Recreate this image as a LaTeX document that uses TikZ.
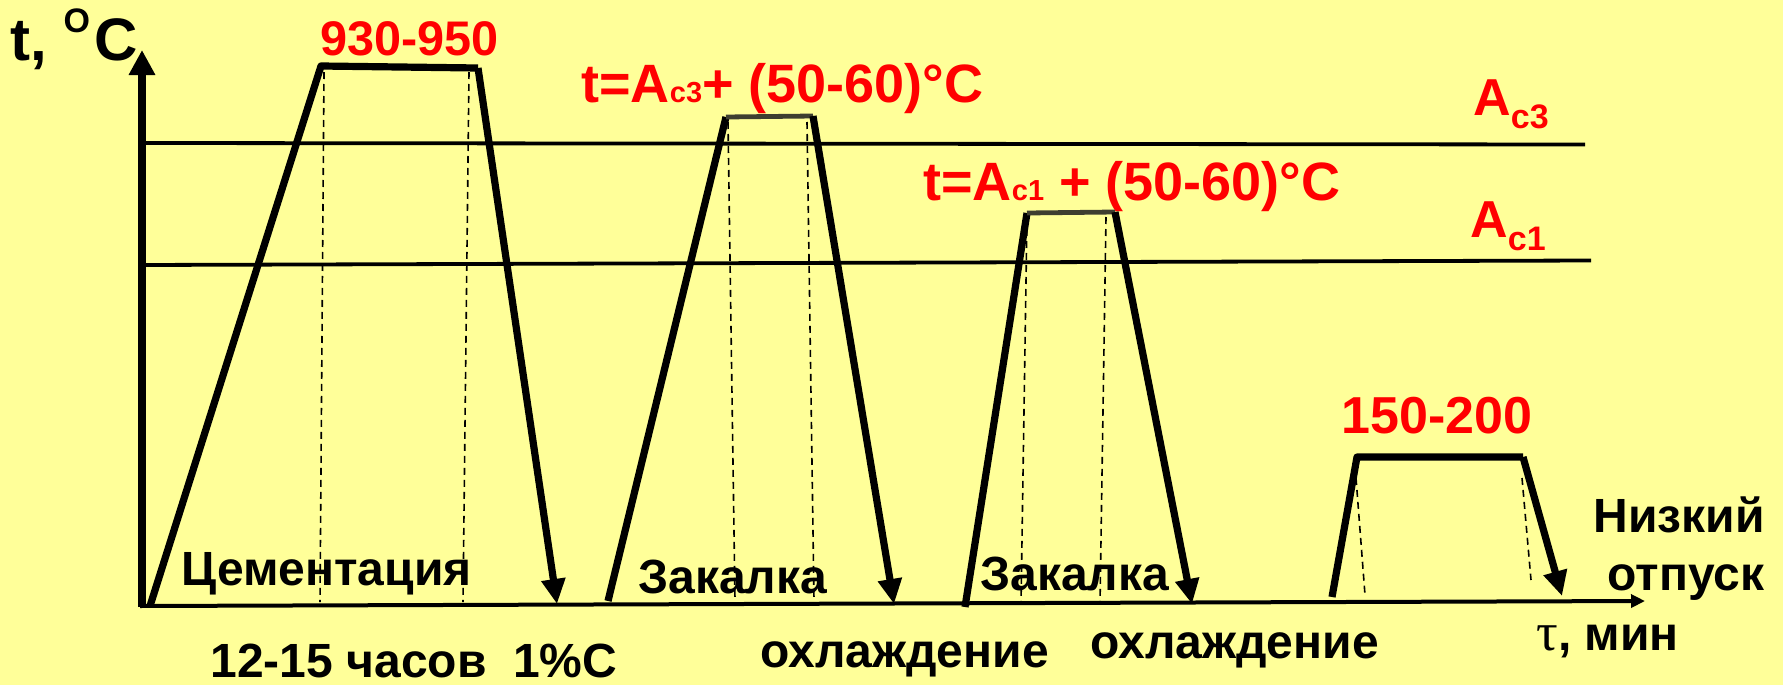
\documentclass[tikz,border=0pt]{standalone}
\usepackage{fontspec}
\setmainfont{Liberation Sans}
\newfontfamily\taufont{Liberation Serif}
\usetikzlibrary{positioning,arrows.meta}
\definecolor{chartbg}{RGB}{255,255,153}
\definecolor{hotred}{RGB}{255,0,0}
\definecolor{holdgray}{RGB}{62,62,48}
\newcommand{\subtxt}[1]{{\fontsize{14.5}{14.5}\selectfont #1}}
\newcommand{\lowsub}[1]{\raisebox{-6.5pt}{\fontsize{17}{17}\selectfont #1}}

\begin{document}
\begin{tikzpicture}[x=0.5pt, y=-0.5pt,
  lbl/.style={font=\fontsize{24}{28}\selectfont\bfseries, inner sep=0pt, anchor=base west},
  hot/.style={lbl, text=hotred, font=\fontsize{26}{30}\selectfont\bfseries},
  prof/.style={line width=3.6pt, line join=round},
  hold/.style={line width=2.4pt, draw=holdgray},
  cool/.style={prof, -{Triangle[length=12.5pt,width=11.5pt]}},
  gu/.style={line width=0.8pt, dash pattern=on 3.5pt off 2.5pt},
  crit/.style={line width=1.9pt}
]
\useasboundingbox (0,0) rectangle (1783,685);
\fill[chartbg] (0,0) rectangle (1783,685);

% axes and critical points
\coordinate (O) at (140,606);
\coordinate (xE) at (1645,601);
\coordinate (yB) at (142,607);
\coordinate (yE) at (142,50);
\coordinate (a3L) at (142,143);
\coordinate (a3R) at (1585,144.5);
\coordinate (a1L) at (142,265);
\coordinate (a1R) at (1591,260.5);

% profile corners: ramp start, ramp top, hold end, cooling tip
\coordinate (up1) at (150,606);  \coordinate (top1) at (321,66);
\coordinate (end1) at (478,68);  \coordinate (tip1) at (557,604);
\coordinate (up2) at (608,601);  \coordinate (top2) at (726,117);
\coordinate (end2) at (813,116); \coordinate (tip2) at (894,604);
\coordinate (up3) at (965,607);  \coordinate (top3) at (1027,213);
\coordinate (end3) at (1115,212); \coordinate (tip3) at (1192,604);
\coordinate (up4) at (1332,597); \coordinate (top4) at (1357,457);
\coordinate (end4) at (1523,457); \coordinate (tip4) at (1562,596);

% labels
\node[lbl, font=\fontsize{30}{30}\selectfont\bfseries] (ylab) at (10,60)
  {t, \raisebox{13.5pt}{\fontsize{17}{17}\selectfont O}\kern2pt C};
\node[hot, font=\fontsize{24.3}{28}\selectfont\bfseries] (tcem) at (320,55) {930-950};
\node[hot, font=\fontsize{27}{30}\selectfont\bfseries] (tq1) at (581,102) {t=A\subtxt{c3}+ (50-60)°C};
\node[hot, font=\fontsize{27}{30}\selectfont\bfseries] (tq2) at (923,200) {t=A\subtxt{c1} + (50-60)°C};
\node[hot] (tlow) at (1341,433) {150-200};
\node[hot] (ac3) at (1473,115) {A\lowsub{c3}};
\node[hot] (ac1) at (1470,237) {A\lowsub{c1}};
\node[lbl] (cem) at (181,585) {Цементация};
\node[lbl] (dur) at (210,677) {12-15 часов\ \ 1\%C};
\node[lbl] (q1) at (638,593) {Закалка};
\node[lbl] (q2) at (980,590) {Закалка};
\node[lbl] (oh1) at (760,667) {охлаждение};
\node[lbl] (oh2) at (1090,658) {охлаждение};
\node[lbl] (tau) at (1536,650) {{\taufont\mdseries\fontsize{27}{28}\selectfont τ}, мин};
\node[lbl, anchor=base east] (low1) at (1765,532) {Низкий};
\node[lbl, anchor=base east] (low2) at ([yshift=-29pt]low1.base east) {отпуск};

\draw[crit] (a3L) -- (a3R);
\draw[crit] (a1L) -- (a1R);
\draw[line width=2pt, -{Triangle[length=7pt,width=6.5pt]}] (O) -- (xE);
\draw[line width=3.8pt, -{Triangle[length=12.5pt,width=12.5pt]}] (yB) -- (yE);

% hold guides
\foreach \xa/\ya/\xb/\yb in {324/72/320/602, 469/72/463/602, 728/122/735/600,
  807/122/814/600, 1027/217/1021/604, 1106/217/1100/604, 1356/478/1365/595,
  1522/478/1531/580}
  \draw[gu] (\xa,\ya) -- (\xb,\yb);

% heat treatment profile
\foreach \i in {1,4} \draw[prof] (up\i) -- (top\i) -- (end\i);
\foreach \i in {2,3} {\draw[prof] (up\i) -- (top\i); \draw[hold] (top\i) -- (end\i);}
\foreach \i in {1,...,4} \draw[cool] (end\i) -- (tip\i);
\end{tikzpicture}
\end{document}
